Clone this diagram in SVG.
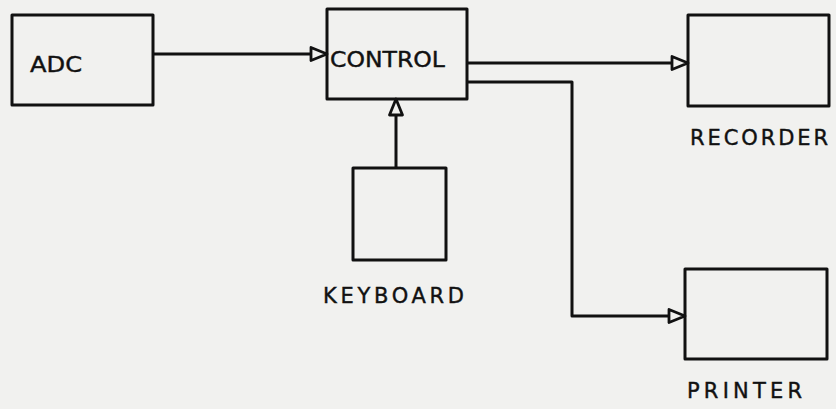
<svg xmlns="http://www.w3.org/2000/svg" width="836" height="409" viewBox="0 0 836 409">
  <style>
    .box { fill: none; stroke: #111; stroke-width: 3; stroke-linejoin: round; }
    .wire { fill: none; stroke: #111; stroke-width: 3; stroke-linejoin: round; }
    .lbl { font-family: "DejaVu Sans", "Liberation Sans", sans-serif; font-size: 21px; fill: #111; stroke: #111; stroke-width: 0.4; }
  </style>
  <defs>
    <marker id="arr" markerUnits="userSpaceOnUse" markerWidth="20" markerHeight="18" refX="18" refY="8.5" orient="auto">
      <path d="M2,2 L18,8.5 L2,15 Z" fill="#f1f1ef" stroke="#111" stroke-width="2.8" stroke-linejoin="round"/>
    </marker>
  </defs>
  <rect width="836" height="409" fill="#f1f1ef"/>
  <g id="connectors">
    <path class="wire" d="M153,54 L327,54" marker-end="url(#arr)"/>
    <path class="wire" d="M467,63 L688,63" marker-end="url(#arr)"/>
    <path class="wire" d="M467,82 L572,82 L572,316 L685,316" marker-end="url(#arr)"/>
    <path class="wire" d="M396,168 L396,99" marker-end="url(#arr)"/>
  </g>
  <g id="adc">
    <rect class="box" x="12" y="15" width="141" height="90"/>
    <text class="lbl" x="30" y="72" textLength="52" lengthAdjust="spacingAndGlyphs">ADC</text>
  </g>
  <g id="control">
    <rect class="box" x="327" y="9" width="140" height="90"/>
    <text class="lbl" x="330" y="67" textLength="115" lengthAdjust="spacingAndGlyphs">CONTROL</text>
  </g>
  <g id="keyboard">
    <rect class="box" x="353" y="168" width="93" height="92"/>
    <text class="lbl" x="323" y="303" textLength="141" lengthAdjust="spacing">KEYBOARD</text>
  </g>
  <g id="recorder">
    <rect class="box" x="688" y="15" width="141" height="91"/>
    <text class="lbl" x="690" y="145" textLength="138" lengthAdjust="spacing">RECORDER</text>
  </g>
  <g id="printer">
    <rect class="box" x="685" y="269" width="142" height="90"/>
    <text class="lbl" x="687" y="398" textLength="115" lengthAdjust="spacing">PRINTER</text>
  </g>
</svg>
